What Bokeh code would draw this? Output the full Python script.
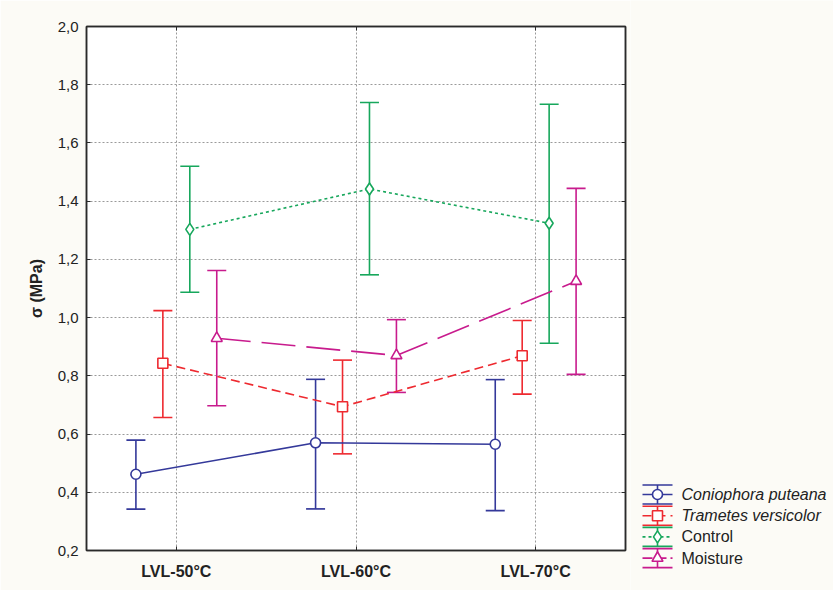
from bokeh.plotting import figure
from bokeh.models import (ColumnDataSource, Whisker, TeeHead, FixedTicker, LinearAxis,
                          CustomJSTickFormatter, Range1d)
from bokeh.layouts import row
from bokeh.embed import file_html
from bokeh.resources import INLINE
from bokeh.core.properties import value

# ---------------- data ----------------
categories = ["LVL-50°C", "LVL-60°C", "LVL-70°C"]
series_names = ["Coniophora puteana", "Trametes versicolor", "Control", "Moisture"]

coniophora_mean = [0.462, 0.570, 0.565]
coniophora_upper = [0.579, 0.788, 0.787]
coniophora_lower = [0.342, 0.343, 0.337]

trametes_mean = [0.843, 0.694, 0.869]
trametes_upper = [1.024, 0.854, 0.990]
trametes_lower = [0.657, 0.532, 0.737]

control_mean = [1.303, 1.442, 1.324]
control_upper = [1.520, 1.739, 1.733]
control_lower = [1.087, 1.147, 0.912]

moisture_mean = [0.929, 0.870, 1.125]
moisture_upper = [1.162, 0.993, 1.444]
moisture_lower = [0.697, 0.743, 0.805]

y_ticks = [0.2, 0.4, 0.6, 0.8, 1.0, 1.2, 1.4, 1.6, 1.8, 2.0]

# ---------------- styles ----------------
FONT = "Liberation Sans"
BG = "#fcfbf6"
TXT = "#222222"
colors = ["#34399a", "#ee2a30", "#17a75c", "#c81b8d"]
dashes = ["solid", "9 5", "3 3", "34 11"]
markers = ["circle", "square", "diamond", "triangle"]
msizes = [10, 10, 12, 11]
offsets = [-0.225, -0.075, 0.075, 0.225]
means = [coniophora_mean, trametes_mean, control_mean, moisture_mean]
uppers = [coniophora_upper, trametes_upper, control_upper, moisture_upper]
lowers = [coniophora_lower, trametes_lower, control_lower, moisture_lower]

H = 590
p = figure(width=630, height=H, x_range=Range1d(0, 3), y_range=Range1d(0.2, 2.0),
           output_backend="svg", toolbar_location=None,
           min_border_left=86, min_border_right=5, min_border_top=26, min_border_bottom=H - 550,
           background_fill_color="white", border_fill_color=BG,
           outline_line_color="#2a2a2a", outline_line_width=1.5)

cat_pos = [i + 0.5 for i in range(len(categories))]
p.xaxis.ticker = FixedTicker(ticks=cat_pos)
p.xaxis.formatter = CustomJSTickFormatter(args=dict(labels=categories),
                                          code="return labels[Math.round(tick - 0.5)];")
p.yaxis.ticker = FixedTicker(ticks=y_ticks)
p.yaxis.formatter = CustomJSTickFormatter(code="return tick.toFixed(1).replace('.', ',');")

for ax in [p.xaxis[0], p.yaxis[0]]:
    ax.axis_line_color = "#2a2a2a"
    ax.axis_line_width = 1.5
    ax.major_tick_in = 4
    ax.major_tick_out = 0
    ax.minor_tick_line_color = None
    ax.major_tick_line_color = "#2a2a2a"
    ax.major_label_text_font = FONT
    ax.major_label_text_color = TXT

p.xaxis.major_label_text_font_size = "16px"
p.xaxis.major_label_text_font_style = "bold"
p.xaxis.major_label_standoff = 12
p.yaxis.major_label_text_font_size = "15px"
p.yaxis.major_label_standoff = 8
p.yaxis.axis_label = "σ (MPa)"
p.yaxis.axis_label_text_font = FONT
p.yaxis.axis_label_text_font_size = "16px"
p.yaxis.axis_label_text_font_style = "bold"
p.yaxis.axis_label_text_color = TXT
p.yaxis.axis_label_standoff = 10

# inward ticks on right and top
for loc, tk in [("right", FixedTicker(ticks=y_ticks)), ("above", FixedTicker(ticks=cat_pos))]:
    ax = LinearAxis(ticker=tk, formatter=CustomJSTickFormatter(code="return '';"),
                    major_tick_in=4, major_tick_out=0, minor_tick_line_color=None,
                    major_label_standoff=0, major_label_text_font_size="1px",
                    axis_line_color="#2a2a2a", axis_line_width=1.5,
                    major_tick_line_color="#2a2a2a")
    p.add_layout(ax, loc)

p.grid.grid_line_color = "#9a9a9a"
p.grid.grid_line_dash = "2 2"
p.grid.grid_line_width = 1

for k in range(4):
    xs = [cat_pos[i] + offsets[k] for i in range(3)]
    src = ColumnDataSource(dict(x=xs, y=means[k], upper=uppers[k], lower=lowers[k]))
    c = colors[k]
    w = Whisker(base="x", upper="upper", lower="lower", source=src, dimension="height",
                line_color=c, line_width=1.6,
                upper_head=TeeHead(size=19, line_color=c, line_width=1.6),
                lower_head=TeeHead(size=19, line_color=c, line_width=1.6))
    p.add_layout(w)
    p.line("x", "y", source=src, line_color=c, line_width=1.6, line_dash=dashes[k])
    p.scatter("x", "y", source=src, marker=markers[k], size=msizes[k],
              fill_color="white", line_color=c, line_width=1.6)

# ---------------- legend panel ----------------
LW = 833 - 630
lg = figure(width=LW, height=H, x_range=Range1d(0, LW), y_range=Range1d(H, 0),
            output_backend="svg", toolbar_location=None, x_axis_type=None, y_axis_type=None,
            min_border=0, background_fill_color=BG, border_fill_color=BG,
            outline_line_color=None)
lg.grid.visible = False
if "frame_align" in lg.properties():
    lg.frame_align = False
    p.frame_align = False

row_y0 = 494
row_dy = 21.2
x0, x1, xc = 12, 42, 27
cap = 9.5
for k in range(4):
    yc = row_y0 + k * row_dy
    c = colors[k]
    lg.segment(x0=[x0, x0], y0=[yc - cap, yc + cap], x1=[x1, x1], y1=[yc - cap, yc + cap],
               line_color=c, line_width=1.6)
    lg.segment(x0=[xc], y0=[yc - cap], x1=[xc], y1=[yc + cap], line_color=c, line_width=1.6)
    lg.segment(x0=[x0], y0=[yc], x1=[x1], y1=[yc], line_color=c, line_width=1.6,
               line_dash=dashes[k] if k != 3 else "10 4")
    lg.scatter(x=[xc], y=[yc], marker=markers[k], size=msizes[k], fill_color="white",
               line_color=c, line_width=1.6)
    lg.text(x=[51], y=[yc], text=[series_names[k]], text_font=value(FONT),
            text_font_size="16px", text_baseline="middle", text_color=TXT,
            text_font_style="italic" if k < 2 else "normal")

layout = row(p, lg, spacing=0)
open("out.html", "w").write(file_html(layout, INLINE))
